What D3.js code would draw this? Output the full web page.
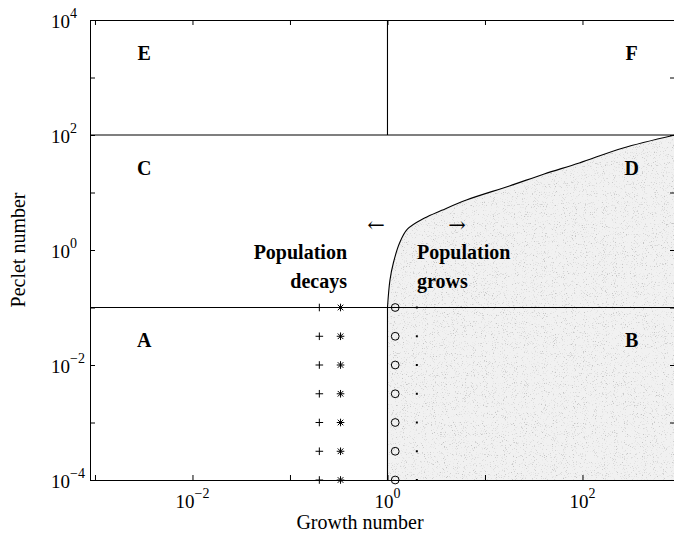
<!DOCTYPE html>
<html>
<head>
<meta charset="utf-8">
<script src="https://cdn.jsdelivr.net/npm/d3@7"></script>
<style>
  body { margin: 0; background: #fff; }
  svg { display: block; }
  text { font-family: "Liberation Serif", "Times New Roman", serif; fill: #000; }
</style>
</head>
<body>
<div id="chart"></div>
<script>
// ---- data ----
const xTicks = [1e-3, 1e-2, 1e-1, 1, 10, 100];
const xLabelExps = [-2, 0, 2];
const yTicks = [1e-4, 1e-3, 1e-2, 1e-1, 1, 10, 100, 1e3, 1e4];
const yLabelExps = [-4, -2, 0, 2, 4];

// growth/decay boundary (growth number, peclet number)
const boundaryG = [1, 1.06, 1.15, 1.33, 1.6, 2.4, 3.6, 6.45, 17.8, 40.5, 92.7, 256, 889];
const boundaryPe = [0.1, 0.3, 0.6, 1.32, 2.3, 3.6, 4.9, 7.4, 13, 21, 32.6, 59, 100];

// region dividers
const peDividers = [100, 0.1];
const gDivider = 1;

// simulation markers
const markerPe = [0.1, 0.0316, 0.01, 0.00316, 0.001, 0.000316, 0.0001];
const markerG = { plus: 0.2, star: 0.33, circle: 1.2, dot: 2 };

// region letters
const regionNames = ["E", "F", "C", "D", "A", "B"];
const regionG = [0.0032, 320, 0.0032, 320, 0.0032, 320];
const regionPe = [2700, 2700, 26.7, 26.7, 0.0267, 0.0267];

const width = 674, height = 537;
const svg = d3.select("#chart").append("svg")
    .attr("width", width).attr("height", height);

const x = d3.scaleLog().domain([0.000889, 889]).range([90, 675]);
const y = d3.scaleLog().domain([1e-4, 1e4]).range([480, 20]);

// stipple texture for the growing region
const defs = svg.append("defs");
const f = defs.append("filter").attr("id", "grain")
    .attr("x", 0).attr("y", 0).attr("width", 1).attr("height", 1);
f.append("feTurbulence").attr("type", "fractalNoise").attr("baseFrequency", 0.9)
    .attr("numOctaves", 2).attr("seed", 7).attr("result", "noise");
f.append("feColorMatrix").attr("in", "noise").attr("type", "matrix")
    .attr("values", "0 0 0 0 0.55  0 0 0 0 0.55  0 0 0 0 0.55  5 0 0 0 -3.0")
    .attr("result", "dots");
f.append("feComposite").attr("in", "dots").attr("in2", "SourceGraphic")
    .attr("operator", "in").attr("result", "clipped");
const merge = f.append("feMerge");
merge.append("feMergeNode").attr("in", "SourceGraphic");
merge.append("feMergeNode").attr("in", "clipped");

const boundary = boundaryG.map((g, i) => [g, boundaryPe[i]]);

const area = d3.area()
    .x(d => x(d[0]))
    .y0(y(1e-4))
    .y1(d => y(d[1]))
    .curve(d3.curveCatmullRom.alpha(0.5));

svg.append("path")
    .datum(boundary)
    .attr("d", area)
    .attr("fill", "#f1f1f1")
    .attr("filter", "url(#grain)");

const line = d3.line()
    .x(d => x(d[0]))
    .y(d => y(d[1]))
    .curve(d3.curveCatmullRom.alpha(0.5));

svg.append("path")
    .datum(boundary)
    .attr("d", line)
    .attr("fill", "none")
    .attr("stroke", "#000")
    .attr("stroke-width", 1.1);

// dividers
peDividers.forEach(pe => {
    svg.append("line")
        .attr("x1", x.range()[0]).attr("x2", x.range()[1])
        .attr("y1", y(pe)).attr("y2", y(pe))
        .attr("stroke", "#000").attr("stroke-width", 1.1);
});
svg.append("line")
    .attr("x1", x(gDivider)).attr("x2", x(gDivider))
    .attr("y1", y(1e4)).attr("y2", y(100))
    .attr("stroke", "#000").attr("stroke-width", 1.1);
svg.append("line")
    .attr("x1", x(gDivider)).attr("x2", x(gDivider))
    .attr("y1", y(0.1)).attr("y2", y(1e-4))
    .attr("stroke", "#000").attr("stroke-width", 1.1);

// axes: ticks on all four sides, pointing inward
const tick = 5;
function styleAxis(g) {
    g.selectAll("path.domain").attr("stroke", "#000");
    g.selectAll(".tick line").attr("stroke", "#000");
}
svg.append("g").attr("transform", `translate(0,${y.range()[0]})`)
    .call(d3.axisBottom(x).tickValues(xTicks).tickSize(-tick).tickSizeOuter(0).tickFormat(""))
    .call(styleAxis);
svg.append("g").attr("transform", `translate(0,${y.range()[1]})`)
    .call(d3.axisTop(x).tickValues(xTicks).tickSize(-tick).tickSizeOuter(0).tickFormat(""))
    .call(styleAxis);
svg.append("g").attr("transform", `translate(${x.range()[0]},0)`)
    .call(d3.axisLeft(y).tickValues(yTicks).tickSize(-tick).tickSizeOuter(0).tickFormat(""))
    .call(styleAxis);
svg.append("g").attr("transform", `translate(${x.range()[1]},0)`)
    .call(d3.axisRight(y).tickValues(yTicks).tickSize(-tick).tickSizeOuter(0).tickFormat(""))
    .call(styleAxis);

function expText(e) {
    return e < 0 ? "\u2212" + Math.abs(e) : String(e);
}

// x tick labels
xLabelExps.forEach(e => {
    const t = svg.append("text")
        .attr("x", x(Math.pow(10, e)))
        .attr("y", 508)
        .attr("text-anchor", "middle")
        .attr("font-size", 19);
    t.append("tspan").text("10");
    t.append("tspan").attr("dy", -10).attr("font-size", 14).text(expText(e));
});

// y tick labels
yLabelExps.forEach(e => {
    const t = svg.append("text")
        .attr("x", 51)
        .attr("y", y(Math.pow(10, e)) + 7.5)
        .attr("font-size", 19);
    t.append("tspan").text("10");
    t.append("tspan").attr("dy", -10).attr("font-size", 14).text(expText(e));
});

// axis titles
svg.append("text")
    .attr("x", 360).attr("y", 529)
    .attr("text-anchor", "middle")
    .attr("font-size", 20)
    .text("Growth number");
svg.append("text")
    .attr("transform", "translate(25,250) rotate(-90)")
    .attr("text-anchor", "middle")
    .attr("font-size", 20)
    .text("Peclet number");

// region letters
regionNames.forEach((name, i) => {
    svg.append("text")
        .attr("x", x(regionG[i]))
        .attr("y", y(regionPe[i]) + 7)
        .attr("text-anchor", "middle")
        .attr("font-size", 20)
        .attr("font-weight", "bold")
        .text(name);
});

// annotations
const ann = svg.append("g").attr("font-size", 20).attr("font-weight", "bold");
ann.append("text").attr("x", 347).attr("y", 259).attr("text-anchor", "end").text("Population");
ann.append("text").attr("x", 347).attr("y", 288).attr("text-anchor", "end").text("decays");
ann.append("text").attr("x", 417).attr("y", 259).text("Population");
ann.append("text").attr("x", 417).attr("y", 288).text("grows");

svg.append("text").attr("x", 376).attr("y", 232).attr("text-anchor", "middle")
    .style("font-family", "'DejaVu Serif'").attr("font-size", 21).text("\u2190");
svg.append("text").attr("x", 457).attr("y", 232).attr("text-anchor", "middle")
    .style("font-family", "'DejaVu Serif'").attr("font-size", 21).text("\u2192");

// markers
const mk = svg.append("g").attr("stroke", "#000").attr("fill", "none").attr("stroke-width", 1);

mk.selectAll("path.plus").data(markerPe).enter().append("path")
    .attr("class", "plus")
    .attr("d", pe => {
        const cx = x(markerG.plus), cy = y(pe), s = 3.8;
        return `M${cx - s},${cy}H${cx + s}M${cx},${cy - s}V${cy + s}`;
    });

mk.selectAll("path.star").data(markerPe).enter().append("path")
    .attr("class", "star")
    .attr("d", pe => {
        const cx = x(markerG.star), cy = y(pe), s = 3.8, d = 2.8;
        return `M${cx - s},${cy}H${cx + s}M${cx},${cy - s}V${cy + s}` +
            `M${cx - d},${cy - d}L${cx + d},${cy + d}M${cx - d},${cy + d}L${cx + d},${cy - d}`;
    });

mk.selectAll("circle.ring").data(markerPe).enter().append("circle")
    .attr("class", "ring")
    .attr("cx", x(markerG.circle))
    .attr("cy", pe => y(pe))
    .attr("r", 3.9);

svg.selectAll("rect.dot").data(markerPe).enter().append("rect")
    .attr("class", "dot")
    .attr("x", x(markerG.dot) - 1)
    .attr("y", pe => y(pe) - 1)
    .attr("width", 2).attr("height", 2)
    .attr("fill", "#000");
</script>
</body>
</html>
